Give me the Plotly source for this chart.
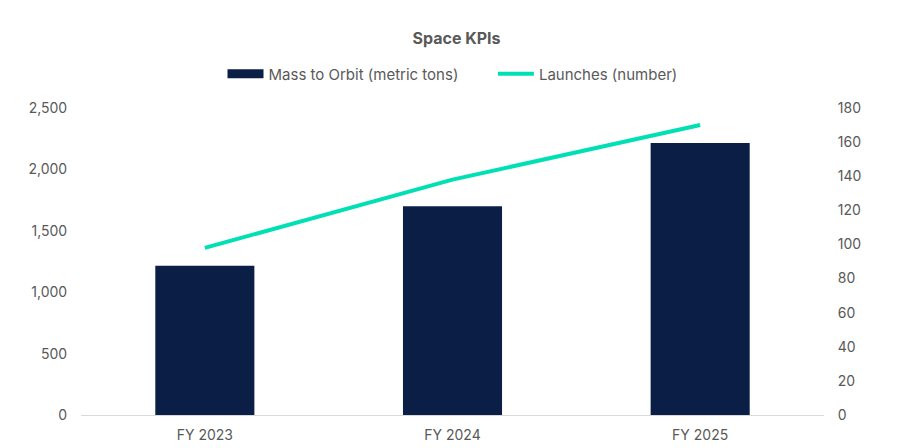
import plotly.graph_objects as go

categories = ["FY 2023", "FY 2024", "FY 2025"]
mass_to_orbit = [1215, 1700, 2215]
launches = [98, 138, 170]

BAR_COLOR = "#0a1e46"
LINE_COLOR = "#00e0b4"
TEXT_COLOR = "#595959"
GAP = "\u00a0" * 7

fig = go.Figure()
fig.add_trace(go.Bar(
    x=categories, y=mass_to_orbit, name="Mass to Orbit (metric tons)",
    marker=dict(color=BAR_COLOR, line=dict(width=0)), width=0.4, yaxis="y",
    showlegend=False,
))
# legend entry drawn as a wide rectangle, like the reference
fig.add_trace(go.Scatter(
    x=[None], y=[None], name="Mass to Orbit (metric tons)" + GAP, mode="lines",
    line=dict(color=BAR_COLOR, width=9), yaxis="y",
))
fig.add_trace(go.Scatter(
    x=categories, y=launches, name="Launches (number)", mode="lines",
    line=dict(color=LINE_COLOR, width=4), yaxis="y2",
))

fig.update_layout(
    width=913, height=448,
    margin=dict(l=81, r=89, t=108, b=33),
    paper_bgcolor="white", plot_bgcolor="white",
    font=dict(family="Inter, Roboto, sans-serif", size=14, color=TEXT_COLOR),
    title=dict(text="<b>Space KPIs</b>", x=0.5, xanchor="center", y=0.915, yanchor="middle",
               font=dict(size=16, color=TEXT_COLOR)),
    legend=dict(orientation="h", x=0.5, xanchor="center", y=1.111, yanchor="middle",
                font=dict(size=15, color=TEXT_COLOR), itemwidth=36, traceorder="normal"),
    xaxis=dict(showgrid=False, showline=True, linecolor="#d9d9d9", linewidth=1,
               ticks="outside", ticklen=7, tickcolor="rgba(0,0,0,0)", automargin=False,
               tickfont=dict(size=14, color=TEXT_COLOR)),
    yaxis=dict(range=[0, 2500], tickvals=[0, 500, 1000, 1500, 2000, 2500],
               tickformat=",", showgrid=False, zeroline=False, showline=False,
               ticks="outside", ticklen=10, tickcolor="rgba(0,0,0,0)", automargin=False,
               tickfont=dict(size=14, color=TEXT_COLOR)),
    yaxis2=dict(range=[0, 180], tickvals=list(range(0, 181, 20)), overlaying="y", side="right",
                showgrid=False, zeroline=False, showline=False, automargin=False,
                ticks="outside", ticklen=10, tickcolor="rgba(0,0,0,0)",
                tickfont=dict(size=14, color=TEXT_COLOR)),
)

fig.write_html("out.html")
